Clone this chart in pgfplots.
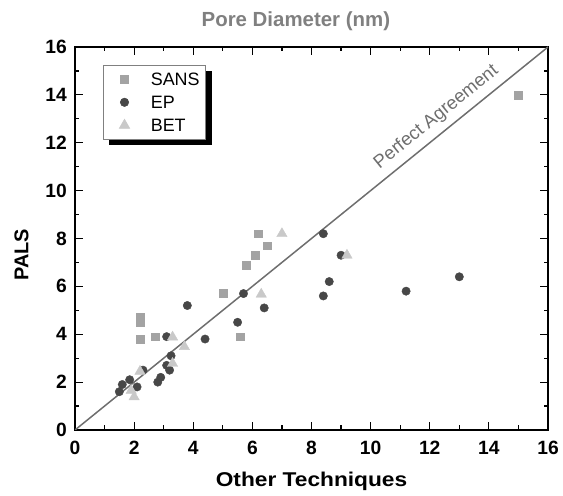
\documentclass[border=0pt]{standalone}
\usepackage{fontspec}
\setmainfont{Liberation Sans}
\newfontfamily\widesans{Liberation Sans}[FakeStretch=1.14]
\usepackage{pgfplots}
\pgfplotsset{compat=1.18}
\usetikzlibrary{shadows}

\definecolor{sanscol}{HTML}{A3A3A3}
\definecolor{epcol}{HTML}{474747}
\definecolor{betcol}{HTML}{C9C9C9}
\definecolor{linecol}{HTML}{6E6E6E}
\definecolor{titlecol}{HTML}{808080}

\pgfplotsset{
  legmark/.style={legend image code/.code={
      \path (-18bp,0bp) (23bp,0bp);
      \draw[##1] plot coordinates {(0bp,0bp)};}},
}

\begin{document}
\begin{tikzpicture}
  \begin{axis}[
      name=main,
      scale only axis,
      width=473bp, height=383bp,
      xmin=0, xmax=16, ymin=0, ymax=16,
      xtick={0,2,...,16}, ytick={0,2,...,16},
      minor tick num=1,
      tick align=inside,
      major tick length=8bp,
      minor tick length=4.5bp,
      axis line style={line width=1.6bp},
      every tick/.style={black, line width=1.2bp},
      /pgf/number format/assume math mode=true,
      tick label style={font=\fontsize{19.3}{19}\selectfont\bfseries},
      xticklabel style={anchor=base, yshift=-24bp},
      yticklabel style={anchor=east, inner xsep=0pt, xshift=-8bp},
      title={Pore Diameter (nm)},
      title style={at={(axis description cs:0.467,1.0373)}, anchor=base,
        font=\fontsize{20.5}{24}\selectfont\bfseries, text=titlecol},
      xlabel={Other Techniques},
      xlabel style={at={(axis description cs:0.5,-0.148)}, anchor=base,
        font=\fontsize{20}{24}\selectfont\widesans\bfseries},
      ylabel={PALS},
      ylabel style={at={(axis description cs:-0.0987,0.457)}, anchor=base,
        font=\fontsize{20}{24}\selectfont\bfseries},
      legend style={at={(axis description cs:0.059,0.953)}, anchor=north west,
        draw=gray, fill=white, line width=0.6bp,
        font=\fontsize{18}{21}\selectfont,
        drop shadow={shadow xshift=6bp, shadow yshift=-6bp, fill=black, opacity=1},
        inner xsep=3bp, inner ysep=2.5bp, row sep=0bp,
        nodes={text height=13bp, text depth=0bp, inner ysep=5bp, inner xsep=3bp}},
      legend cell align=left,
    ]
    \addplot[linecol, line width=1.5bp, forget plot] coordinates {(0,0) (16,16)}
      node[pos=0.785, sloped, above, font=\fontsize{18.5}{20}\selectfont, text=linecol, inner sep=6.5bp] {Perfect Agreement};

    \addplot[only marks, legmark, mark=square*, mark size=3.9bp,
      mark options={draw=sanscol, fill=sanscol}] coordinates {
      (2.2,4.7) (2.2,4.5) (2.2,3.8) (2.7,3.9) (5.0,5.7) (5.6,3.9)
      (5.8,6.9) (6.1,7.3) (6.2,8.2) (6.5,7.7) (15.0,14.0)
    };
    \addlegendentry{SANS}

    \addplot[only marks, legmark, mark=*, mark size=4.2bp,
      mark options={draw=epcol, fill=epcol}] coordinates {
      (1.5,1.6) (1.6,1.9) (1.85,2.1) (2.1,1.8) (2.3,2.5) (2.8,2.0)
      (2.9,2.2) (3.1,3.9) (3.1,2.7) (3.25,3.1) (3.2,2.5) (3.8,5.2)
      (4.4,3.8) (5.5,4.5) (5.7,5.7) (6.4,5.1) (8.4,8.2) (9.0,7.3)
      (8.6,6.2) (8.4,5.6) (11.2,5.8) (13.0,6.4)
    };
    \addlegendentry{EP}

    \addplot[only marks, legmark, mark=triangle*, mark size=6bp,
      mark options={draw=betcol, fill=betcol}] coordinates {
      (2.2,2.45) (1.9,1.65) (2.0,1.38) (3.3,3.88) (3.3,2.78)
      (3.7,3.48) (6.3,5.67) (7.0,8.2) (9.2,7.3)
    };
    \addlegendentry{BET}
  \end{axis}
  \path (main.south west) ++(-75bp,-66bp);
  \path (main.north east) ++(15bp,47bp);
\end{tikzpicture}
\end{document}
